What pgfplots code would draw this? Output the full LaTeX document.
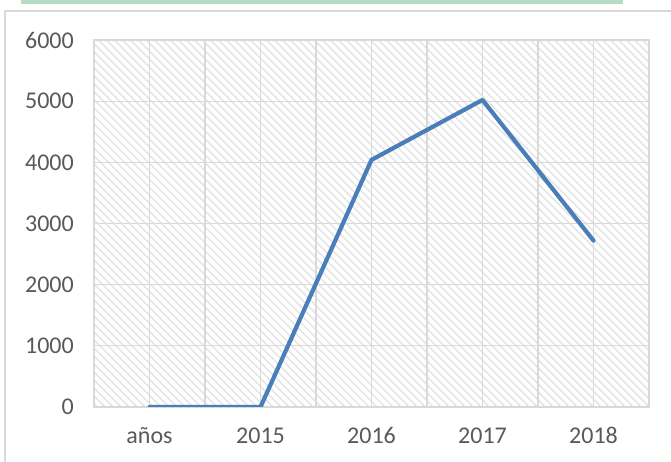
\documentclass[border=0pt]{standalone}
\usepackage{fontspec}
\setmainfont{Carlito}
\usepackage{pgfplots}
\pgfplotsset{compat=1.18}
\usetikzlibrary{patterns.meta}

\definecolor{serie}{HTML}{4A7EBB}
\definecolor{rejilla}{HTML}{D9D9D9}
\definecolor{rotulo}{HTML}{595959}
\definecolor{trama}{HTML}{E2E2E2}
\definecolor{barra}{HTML}{B6DCC6}

\begin{document}
\begin{tikzpicture}[x=1bp,y=1bp]
\path[use as bounding box] (0,0) rectangle (671,462);
\fill[barra] (21,458) rectangle (623,462);
\draw[rejilla, line width=1.3bp] (5,0) -- (5,451) -- (671,451);
\begin{axis}[
  at={(94bp,55bp)}, anchor=south west,
  width=555bp, height=367bp, scale only axis,
  xmin=-0.5, xmax=4.5, ymin=0, ymax=6000,
  xtick={0,...,4}, xticklabels={años,2015,2016,2017,2018},
  minor x tick num=1,
  ytick={0,1000,...,6000},
  grid=both,
  major grid style={rejilla, line width=1.1bp},
  minor grid style={rejilla, line width=1.1bp},
  axis line style={rejilla, line width=1.1bp},
  tick style={draw=none},
  axis background/.style={pattern={Lines[angle=-45,distance=5.66bp,line width=1.4bp]}, pattern color=trama},
  /pgf/number format/assume math mode=true,
  /pgf/number format/1000 sep={},
  tick label style={font=\fontsize{24bp}{28bp}\selectfont, text=rotulo, inner sep=0pt},
  xticklabel style={text height=0.65em, text depth=0.2em},
  xticklabel shift=30bp,
  yticklabel shift=20bp,
]
\addplot[serie, line width=4.2bp, line join=round, line cap=round] coordinates {
  (0,0) (1,0) (2,4040) (3,5020) (4,2720)
};
\end{axis}
\end{tikzpicture}
\end{document}
